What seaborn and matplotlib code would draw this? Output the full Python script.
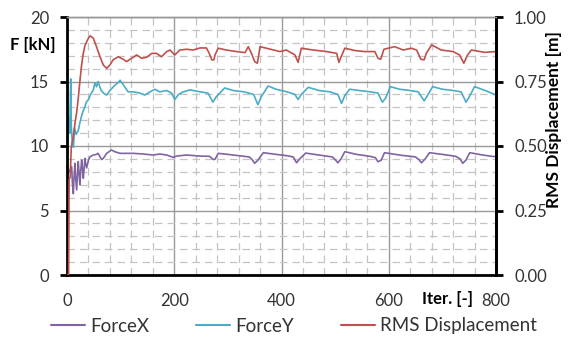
import numpy as np
import pandas as pd
import matplotlib
matplotlib.use("Agg")
import matplotlib.pyplot as plt
import seaborn as sns
from matplotlib.lines import Line2D

# ---------------- data ----------------
fx_iter = [2, 5, 8.7, 10, 11.8, 13, 14.9, 16, 18, 19.5, 21, 22.5, 24, 25.5, 27.3, 29, 30.4, 32,
           33.5, 35, 36.6, 40, 43, 49, 55, 58, 61.5, 64.6, 67.7, 74, 83, 89, 99, 111, 124, 142,
           161, 173, 186, 198, 204, 223, 248, 266, 270, 273, 276, 282, 300, 320, 340, 345, 350,
           356, 366, 390, 410, 422, 428, 434, 445, 470, 495, 500, 505, 511, 518, 540, 565, 575,
           580, 586, 592, 620, 650, 656, 661, 668, 676, 700, 725, 733, 738, 744, 751, 775, 798]
fx_val = [7.9, 8.1, 8.4, 7.2, 6.3, 7.5, 8.66, 7.6, 6.6, 7.8, 8.79, 7.9, 7.0, 8.0, 8.91, 8.2, 7.5, 8.3,
          9.04, 8.6, 8.3, 8.9, 9.17, 9.3, 9.35, 9.43, 9.17, 8.95, 9.04, 9.43, 9.69, 9.56, 9.43, 9.43, 9.43, 9.38,
          9.3, 9.38, 9.3, 9.12, 9.22, 9.3, 9.22, 9.2, 9.05, 8.95, 8.97, 9.43, 9.35, 9.25, 9.15, 8.95, 8.66,
          8.9, 9.48, 9.35, 9.25, 9.15, 8.7, 9.0, 9.45, 9.3, 9.15, 8.95, 8.7, 9.0, 9.56, 9.35, 9.2, 9.1,
          8.78, 8.9, 9.48, 9.3, 9.15, 8.95, 8.7, 9.0, 9.48, 9.35, 9.2, 9.0, 8.66, 8.9, 9.48, 9.3, 9.17]

fy_iter = [1, 3, 5, 7, 8, 10, 12, 14, 17, 21, 24, 27, 30, 33.5, 36, 40, 44, 49, 52, 55, 58, 61, 64, 68,
           74, 80, 89, 95, 99, 105, 114, 124, 136, 145, 155, 164, 173, 186, 195, 201, 208, 217, 229,
           248, 263, 272, 278, 294, 310, 330, 348, 356, 362, 375, 390, 410, 425, 431, 437, 450, 470,
           490, 505, 512, 518, 527, 545, 565, 580, 588, 594, 603, 620, 640, 655, 666, 672, 682, 700,
           720, 735, 744, 750, 760, 780, 800]
fy_val = [12.0, 12.2, 11.0, 15.2, 11.5, 10.2, 9.9, 11.4, 10.9, 11.2, 11.8, 12.3, 12.7, 13.05, 13.4, 13.6, 14.0, 14.34, 14.9, 14.6, 15.0, 14.6, 14.3, 14.1,
          13.95, 14.3, 14.7, 14.9, 15.1, 14.75, 14.2, 14.2, 14.1, 13.95, 14.2, 14.4, 14.2, 14.3, 14.1, 13.6, 14.0, 14.2, 14.35,
          14.2, 14.1, 13.4, 13.8, 14.5, 14.3, 14.2, 14.0, 13.2, 13.8, 14.65, 14.4, 14.2, 14.0, 13.6, 14.0, 14.55, 14.3,
          14.2, 14.0, 13.3, 13.9, 14.4, 14.3, 14.2, 14.1, 13.4, 13.7, 14.6, 14.4, 14.3, 14.2, 13.5, 13.9, 14.6, 14.4,
          14.3, 14.2, 13.4, 13.8, 14.6, 14.3, 13.95]

rms_iter = [1, 3, 4, 6, 8, 12, 15, 18, 21, 24, 27, 30, 33.5, 40, 43, 49, 55, 61.5, 67.7, 74, 80, 86,
            95.6, 105, 111, 120.5, 130, 139, 148.5, 158, 167, 176, 186, 192, 201, 210.5, 223, 235,
            248, 260, 265, 270, 274, 276, 282, 297, 316, 332, 338, 344, 350, 355, 360, 372, 397,
            409, 425, 431, 437, 459, 484, 503, 507, 511, 518, 537, 555, 574, 580, 585, 591, 611,
            627, 642, 652, 660, 666, 670, 680, 698, 720, 732, 740, 747, 754, 779, 800]
rms_val = [0.0, 0.0, 0.37, 0.38, 0.495, 0.54, 0.59, 0.63, 0.685, 0.75, 0.81, 0.855, 0.89, 0.918, 0.927, 0.918, 0.885, 0.846, 0.814, 0.801, 0.814, 0.834,
           0.846, 0.836, 0.827, 0.84, 0.853, 0.84, 0.844, 0.859, 0.859, 0.846, 0.866, 0.872, 0.853, 0.872, 0.875, 0.872,
           0.88, 0.88, 0.86, 0.834, 0.834, 0.853, 0.879, 0.872, 0.866, 0.862, 0.885, 0.859, 0.827, 0.821, 0.885, 0.879, 0.866,
           0.872, 0.853, 0.824, 0.879, 0.872, 0.866, 0.859, 0.824, 0.845, 0.879, 0.87, 0.866, 0.866, 0.84, 0.836, 0.875, 0.885,
           0.872, 0.879, 0.872, 0.836, 0.834, 0.859, 0.892, 0.872, 0.866, 0.853, 0.821, 0.853, 0.872, 0.863, 0.866]

x_ticks = [0, 200, 400, 600, 800]
x_ticklabels = ["0", "200", "400", "600", "800"]
y_ticks = [0, 5, 10, 15, 20]
y2_ticks = [0.0, 0.25, 0.5, 0.75, 1.0]
series_labels = ["ForceX", "ForceY", "RMS Displacement"]

assert len(fx_iter) == len(fx_val)
assert len(fy_iter) == len(fy_val)
assert len(rms_iter) == len(rms_val)

# ---------------- styling ----------------
sns.set_style("white")
plt.rcParams["font.family"] = ["Lato", "DejaVu Sans"]

C_X = "#8064A2"
C_Y = "#4BACC6"
C_R = "#C0504D"
TXT = "#333333"

W, H = 570, 339
fig = plt.figure(figsize=(W / 100, H / 100), dpi=100)
ax = fig.add_axes([67 / W, 1 - 275 / H, (496 - 67) / W, (275 - 17) / H])
ax2 = ax.twinx()

dfx = pd.DataFrame({"iter": fx_iter, "val": fx_val})
dfy = pd.DataFrame({"iter": fy_iter, "val": fy_val})
dfr = pd.DataFrame({"iter": rms_iter, "val": rms_val})

sns.lineplot(data=dfx, x="iter", y="val", ax=ax, color=C_X, lw=1.2, legend=False)
sns.lineplot(data=dfy, x="iter", y="val", ax=ax, color=C_Y, lw=1.2, legend=False)
sns.lineplot(data=dfr, x="iter", y="val", ax=ax2, color=C_R, lw=1.2, legend=False)

ax.set_xlim(0, 800)
ax.set_ylim(0, 20)
ax2.set_ylim(0, 1)

ax.set_xticks(x_ticks)
ax.set_xticklabels(x_ticklabels)
ax.set_yticks(y_ticks)
ax2.set_yticks(y2_ticks)
ax2.set_yticklabels([f"{v:.2f}" for v in y2_ticks])
ax.set_xticks(np.arange(0, 801, 40), minor=True)
ax.set_yticks(np.arange(0, 21, 1), minor=True)

ax.grid(True, which="major", color="#999999", lw=1.0)
ax.grid(True, which="minor", color="#c4c4c4", lw=0.9, linestyle=(0, (6, 4)))
ax.set_axisbelow(True)
ax.set_xlabel("")
ax.set_ylabel("")
ax2.set_ylabel("")

for a in (ax, ax2):
    for s in ("left", "bottom", "right"):
        a.spines[s].set_color("black")
        a.spines[s].set_linewidth(2)
    a.spines["top"].set_color("#999999")
    a.spines["top"].set_linewidth(1)
ax2.spines["left"].set_visible(False)
ax2.spines["bottom"].set_visible(False)

ax.tick_params(axis="both", which="major", direction="out", length=5, width=2,
               color="black", labelsize=12, labelcolor=TXT, pad=8)
ax.tick_params(axis="both", which="minor", length=0)
ax2.tick_params(axis="y", which="major", direction="out", length=5, width=2,
                color="black", labelsize=12, labelcolor=TXT, pad=8)

fig.text(33 / W, 1 - 45 / H, "F [kN]", fontsize=12, fontweight="bold", color="black",
         ha="center", va="center")
fig.text(447 / W, 1 - 299 / H, "Iter. [-]", fontsize=12, fontweight="bold", color="black",
         ha="center", va="center")
fig.text(554 / W, 1 - 120 / H, "RMS Displacement [m]", fontsize=12.5, fontweight="bold",
         color="black", ha="center", va="center", rotation=90)

handles = [Line2D([], [], color=c, lw=1.5) for c in (C_X, C_Y, C_R)]
fig.legend(handles, series_labels, loc="center", bbox_to_anchor=(294 / W, 1 - 326 / H),
           ncol=3, frameon=False, fontsize=13.5, handlelength=1.8, handletextpad=0.3,
           columnspacing=2.5, labelcolor=TXT, borderpad=0, borderaxespad=0)

fig.savefig("out.png", dpi=100, facecolor="white")
